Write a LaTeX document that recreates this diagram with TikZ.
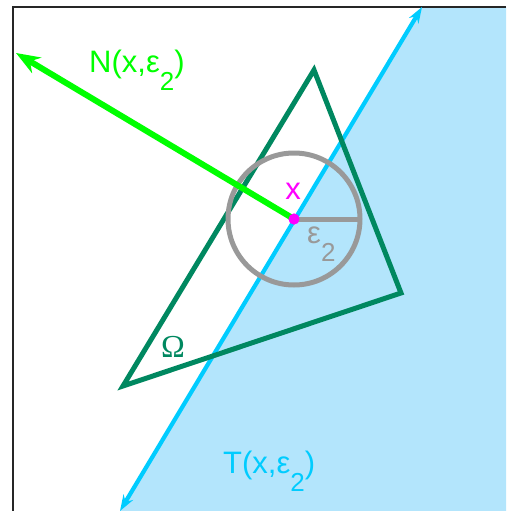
\documentclass[tikz,border=0pt]{standalone}
\usepackage{fontspec}
\setmainfont{Liberation Sans}
\newfontfamily\omgfont{Liberation Serif}
\usetikzlibrary{arrows.meta,positioning}
\definecolor{tcyan}{RGB}{0,204,255}
\definecolor{tfillc}{RGB}{179,229,252}
\definecolor{omgreen}{RGB}{0,136,96}
\definecolor{ngreen}{RGB}{0,255,0}
\definecolor{bgray}{RGB}{153,153,153}
\definecolor{xmag}{RGB}{255,0,255}
\newcommand{\lowtwo}{\raisebox{-18pt}{\fontsize{26}{26}\selectfont 2}}
\tikzset{
  lab/.style={font=\fontsize{31}{33}\selectfont, inner sep=0pt, anchor=base west},
  tln/.style={{Stealth[length=16pt,width=11pt]}-{Stealth[length=16pt,width=11pt]}, tcyan, line width=4.2pt},
  omg/.style={draw=omgreen, line width=5pt, miter limit=20},
  ball/.style={draw=bgray, line width=5pt},
  nvec/.style={-{Stealth[length=24pt,width=18pt]}, ngreen, line width=6pt},
  xdot/.style={circle, fill=xmag, inner sep=0pt, minimum size=11pt},
}
\begin{document}
\begin{tikzpicture}[x=1pt,y=-1pt]
  \useasboundingbox (0,0) rectangle (506,511);
  % points
  \coordinate (ttop) at (422,7);
  \coordinate (tbot) at (120,511);
  \coordinate (va) at (314,70);
  \coordinate (vb) at (401,293);
  \coordinate (vc) at (123,386);
  \coordinate (ntip) at (16,53);
  \coordinate (rad) at (360,219);
  % half plane
  \fill[tfillc] (ttop) -- (506,7) -- (506,511) -- (tbot) -- cycle;
  \draw[black!85, line width=2pt] (13,511) -- (13,7) -- (506,7);
  \draw[tln] (tbot) -- (ttop);
  % Omega
  \draw[omg] (va) -- (vb) -- (vc) -- cycle;
  % ball
  \node[xdot] (ctr) at (294,219) {};
  \draw[ball] (ctr.center) circle (66);
  \draw[ball] (ctr.center) -- (rad);
  \draw[nvec] (ctr.center) -- (ntip);
  \node[xdot] at (ctr) {};
  % labels
  \node[lab, text=ngreen] (nlab) at (89,72) {N(x,ε\lowtwo)};
  \node[lab, text=tcyan] (tlab) at (223,473) {T(x,ε\lowtwo)};
  \node[lab, text=xmag, anchor=base] (xlab) at (293,199) {x};
  \node[lab, text=bgray] (elab) at (307,243) {ε\lowtwo};
  \node[font=\omgfont\fontsize{32}{32}\selectfont, text=omgreen, inner sep=0pt, anchor=base] (olab) at (173,357) {Ω};
\end{tikzpicture}
\end{document}
